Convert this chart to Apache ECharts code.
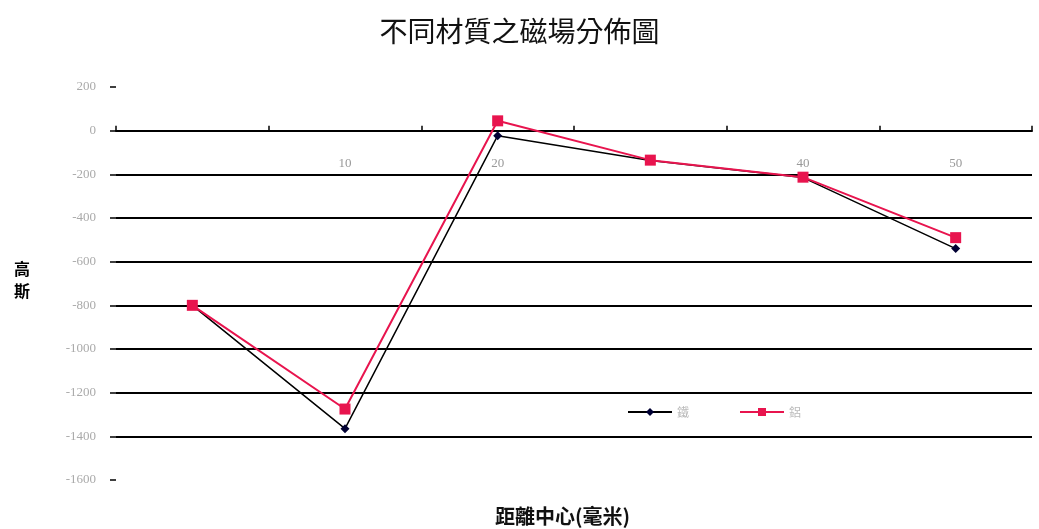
<!DOCTYPE html>
<html>
<head>
<meta charset="utf-8">
<script src="https://cdn.jsdelivr.net/npm/echarts@6/dist/echarts.min.js"></script>
<style>
  html, body { margin: 0; padding: 0; background: #fff; }
  #chart { width: 1039px; height: 529px; }
</style>
</head>
<body>
<div id="chart"></div>
<script>
// Distance from centre (mm) and measured field strength (gauss)
const categories = ['0', '10', '20', '30', '40', '50'];
const seriesNames = ['鐵', '鋁'];
const ironValues = [-800, -1365, -23, -137, -215, -540];
const aluValues = [-800, -1275, 45, -135, -213, -490];
const yMin = -1600, yMax = 200, yStep = 200;
// category labels that are printed along the zero line
const labelledCategories = ['10', '20', '40', '50'];

const gridTop = 87, gridBottom = 49, chartHeight = 529;
// the category axis sits on the zero line of the value axis
const plotHeight = chartHeight - gridTop - gridBottom;
const zeroOffset = -plotHeight * (0 - yMin) / (yMax - yMin);

const chart = echarts.init(document.getElementById('chart'));
chart.setOption({
  animation: false,
  backgroundColor: '#fff',
  title: {
    text: '不同材質之磁場分佈圖',
    left: 'center',
    top: 12,
    textStyle: { fontFamily: 'Noto Sans CJK TC', fontSize: 28, fontWeight: 'normal', color: '#111' }
  },
  grid: { left: 116, right: 7, top: gridTop, bottom: gridBottom, containLabel: false },
  legend: {
    left: 622, top: 401,
    itemWidth: 44, itemHeight: 10, itemGap: 50,
    textStyle: { color: '#bbb', fontSize: 12, fontFamily: 'Noto Sans CJK TC' },
    data: [{ name: seriesNames[0] }, { name: seriesNames[1] }]
  },
  xAxis: {
    type: 'category',
    data: categories,
    boundaryGap: true,
    position: 'bottom',
    offset: zeroOffset,
    axisLine: { onZero: false, lineStyle: { color: '#000', width: 2 } },
    axisTick: { show: true, interval: 0, inside: true, length: 5, alignWithLabel: false, lineStyle: { color: '#000', width: 1.5 } },
    axisLabel: {
      margin: 26, color: '#999', fontSize: 13, fontFamily: 'Liberation Serif',
      interval: (i, v) => labelledCategories.includes(v)
    },
    splitLine: { show: false }
  },
  yAxis: {
    type: 'value',
    min: yMin, max: yMax, interval: yStep,
    axisLine: { show: false },
    axisTick: { show: true, length: 6, lineStyle: { color: '#000', width: 1.5 } },
    axisLabel: { margin: 20, color: '#aaa', fontSize: 13, fontFamily: 'Liberation Serif', formatter: v => String(v) },
    splitLine: { show: true, showMinLine: false, showMaxLine: false, lineStyle: { color: '#000', width: 2 } }
  },
  series: [
    {
      name: seriesNames[0],
      type: 'line',
      data: ironValues,
      symbol: 'diamond',
      symbolSize: 9,
      itemStyle: { color: '#000033' },
      lineStyle: { color: '#000', width: 1.5 },
      z: 3
    },
    {
      name: seriesNames[1],
      type: 'line',
      data: aluValues,
      symbol: 'rect',
      symbolSize: 11,
      itemStyle: { color: '#e8144e' },
      lineStyle: { color: '#e8144e', width: 2 },
      z: 4
    }
  ],
  graphic: [
    {
      type: 'text', left: 14, top: 258,
      style: { text: '高\n斯', font: 'bold 16px "Noto Sans CJK TC"', fill: '#000', lineHeight: 22 }
    },
    {
      type: 'text', left: 495, top: 506,
      style: { text: '距離中心(毫米)', font: 'bold 20px "Noto Sans CJK TC"', fill: '#111' }
    }
  ]
});
</script>
</body>
</html>
